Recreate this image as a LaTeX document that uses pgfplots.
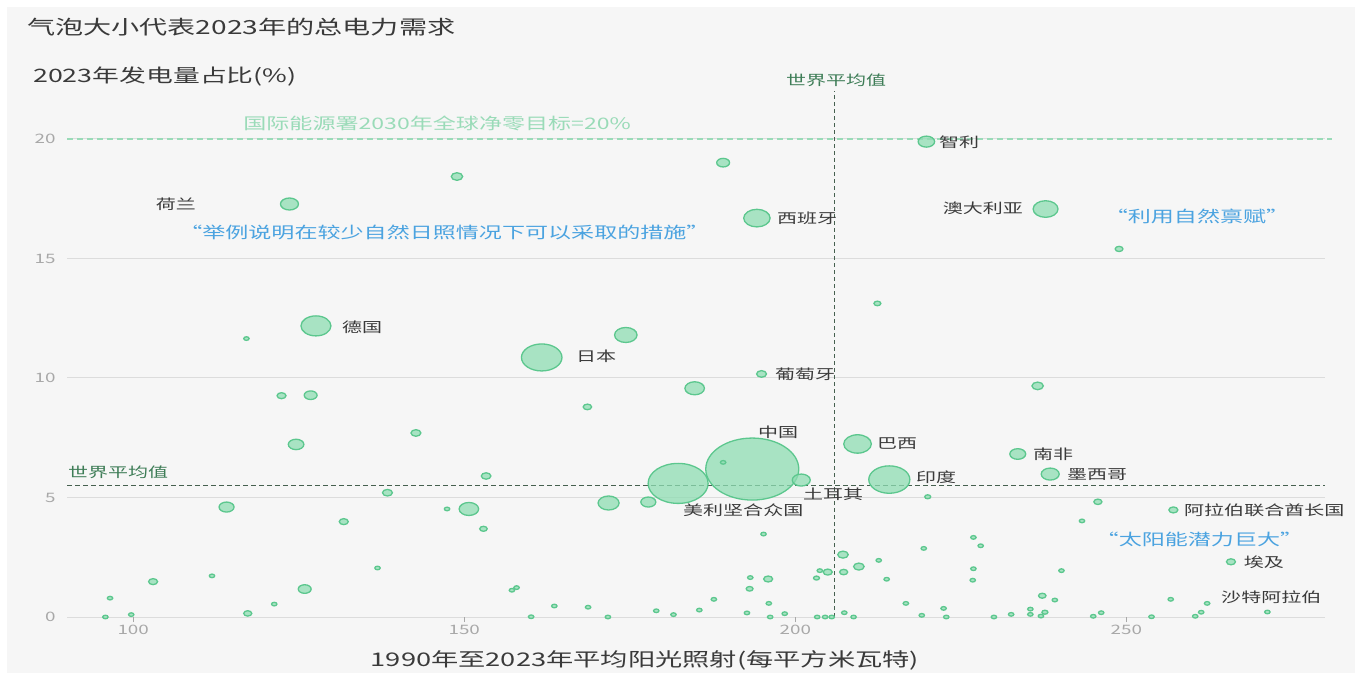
\documentclass[border=0pt]{standalone}
\usepackage{pgfplots}
\pgfplotsset{compat=1.18}
\usepackage{fontspec}
\setmainfont{Noto Sans CJK SC}[FakeStretch=1.45]

\definecolor{bggray}{HTML}{F6F6F6}
\definecolor{gridgray}{HTML}{DCDCDC}
\definecolor{tickgray}{HTML}{A8A8A8}
\definecolor{textdark}{HTML}{3A3A3A}
\definecolor{quoteblue}{HTML}{4BA3E0}
\definecolor{iealine}{HTML}{9ADBB8}
\definecolor{avglabel}{HTML}{3E7D57}
\definecolor{avgline}{HTML}{46604F}
\definecolor{bubblefill}{HTML}{8EDDB2}
\definecolor{bubbleedge}{HTML}{5CC78E}

\newcommand{\lab}{\fontsize{13.8}{15}\selectfont}
\newcommand{\quo}{\fontsize{15.9}{17}\selectfont}

\begin{document}
\begin{tikzpicture}
\fill[white] (0pt,0pt) rectangle (1361pt,673pt);
\fill[bggray] (7pt,0pt) rectangle (1355pt,666pt);
\path[use as bounding box] (0pt,0pt) rectangle (1361pt,673pt);

\node[anchor=west, text=textdark, font=\fontsize{19.4}{21}\selectfont, inner sep=0pt] at (27pt,646pt) {气泡大小代表2023年的总电力需求};
\node[anchor=west, text=textdark, font=\fontsize{18.5}{20}\selectfont, inner sep=0pt] at (33pt,596pt) {2023年发电量占比(\%)};
\node[anchor=center, text=textdark, font=\fontsize{18.8}{20}\selectfont, inner sep=0pt] at (645pt,13pt) {1990年至2023年平均阳光照射(每平方米瓦特)};

\begin{axis}[
  at={(67pt,56pt)}, anchor=south west, scale only axis,
  width=1258pt, height=537.75pt,
  xmin=90, xmax=280, ymin=0, ymax=22.5,
  axis line style={draw=none},
  xtick={100,150,200,250}, ytick={0,5,10,15,20},
  ymajorgrids, grid style={color=gridgray, line width=1pt},
  xtick pos=bottom, ytick pos=left,
  tick align=outside, major tick length=5pt,
  xtick style={draw=tickgray, line width=1pt},
  ytick style={draw=none},
  tick label style={font=\fontsize{13}{14}\selectfont, color=tickgray},
  yticklabel style={xshift=-3pt},
  /pgf/number format/assume math mode=true,
  clip=false,
]

% reference lines
\draw[iealine, line width=1.3pt, dash pattern=on 6pt off 4pt] (axis cs:90,20) -- (axis cs:281,20);
\draw[avgline, line width=1.1pt, dash pattern=on 5pt off 3pt] (axis cs:90,5.52) -- (axis cs:280,5.52);
\draw[avgline, line width=1.1pt, dash pattern=on 4pt off 3pt] (axis cs:205.9,0) -- (axis cs:205.9,22);

% bubbles: x = sunshine, y = share, r = vertical radius (pt)
\addplot[scatter, only marks, mark=*,
  scatter/use mapped color={draw=bubbleedge, fill=bubblefill},
  visualization depends on={\thisrow{r}\as\rr},
  scatter/@pre marker code/.append style={/tikz/mark size=\rr},
  mark options={xscale=1.5, line width=1.3pt, fill opacity=0.75}]
table {
x y r
193.5 6.19 31
182.3 5.59 20
214.2 5.75 13.7
161.7 10.86 13.5
209.4 7.24 9.2
127.6 12.18 10
194.2 16.69 8.8
237.8 17.07 8.3
123.6 17.28 6
219.8 19.89 5.5
200.9 5.73 6
233.6 6.82 5.3
238.5 5.98 6
194.9 10.17 3.3
257.1 4.48 3
265.8 2.31 3
174.4 11.80 7.5
148.9 18.43 3.8
189.1 19.01 4.3
212.4 13.12 2.3
248.9 15.40 2.6
236.6 9.67 3.8
184.8 9.57 6.5
117.1 11.65 1.8
122.4 9.26 3
126.8 9.28 4.3
124.6 7.22 5.2
142.7 7.70 3.3
168.6 8.79 2.8
153.3 5.90 3.2
138.4 5.20 3.3
114.1 4.60 5
131.8 3.99 3
147.4 4.52 1.8
150.7 4.52 6.5
152.9 3.69 2.5
171.8 4.77 7
177.8 4.81 5
189.1 6.47 1.8
195.2 3.47 1.8
220.0 5.03 2
245.7 4.82 2.7
243.3 4.02 1.8
226.9 3.33 1.8
228.0 2.98 1.8
95.8 0.00 1.8
96.5 0.79 1.8
99.7 0.10 1.8
103.0 1.48 3
111.9 1.72 1.8
117.3 0.15 2.7
121.3 0.54 1.8
125.9 1.17 4.3
136.9 2.05 1.8
157.2 1.12 1.8
157.9 1.23 1.8
160.1 0.01 1.8
163.6 0.46 1.8
168.7 0.41 1.8
171.7 0.00 1.8
179.0 0.26 1.8
181.6 0.10 1.8
185.5 0.29 1.8
187.7 0.74 1.8
192.7 0.17 1.8
193.1 1.18 2.3
193.2 1.65 1.8
195.9 1.59 3
196.0 0.57 1.8
196.2 0.00 1.8
198.4 0.14 1.8
203.2 1.63 2
203.7 1.94 1.8
204.9 1.88 3
203.3 0.00 1.8
204.5 0.00 1.8
205.5 0.00 1.8
207.2 2.61 3.5
207.3 1.88 2.7
207.4 0.18 1.8
208.8 0.00 1.8
209.6 2.11 3.5
212.6 2.37 1.8
213.8 1.58 1.8
216.7 0.57 1.8
219.1 0.07 1.8
219.4 2.87 1.8
222.4 0.36 1.8
222.8 0.00 1.8
226.9 2.02 1.8
226.8 1.54 1.8
230.0 0.00 1.8
232.6 0.11 1.8
235.5 0.33 1.8
235.5 0.11 1.8
237.3 0.89 2.5
237.7 0.20 2
237.1 0.04 1.8
239.2 0.71 1.8
240.2 1.94 1.8
245.0 0.03 1.8
246.2 0.18 1.8
253.8 0.01 1.8
256.7 0.74 1.8
260.4 0.03 1.8
261.3 0.20 1.8
262.2 0.57 1.8
271.3 0.21 1.8
};

% annotations
\node[text=iealine, font=\quo] at (axis cs:145.9,20.67) {国际能源署2030年全球净零目标=20\%};
\node[text=avglabel, font=\lab] at (axis cs:206.15,22.47) {世界平均值};
\node[text=avglabel, font=\lab, anchor=west, inner sep=0pt] at (axis cs:90.15,6.07) {世界平均值};

\node[text=quoteblue, font=\quo] at (axis cs:147.0,16.07) {“举例说明在较少自然日照情况下可以采取的措施”};
\node[text=quoteblue, font=\quo] at (axis cs:260.67,16.74) {“利用自然禀赋”};
\node[text=quoteblue, font=\quo] at (axis cs:261.04,3.26) {“太阳能潜力巨大”};

\begin{scope}[every node/.style={text=textdark, font=\lab, inner sep=0pt}]
\node at (axis cs:106.46,17.28) {荷兰};
\node[anchor=west] at (axis cs:131.53,12.13) {德国};
\node[anchor=west] at (axis cs:166.88,10.92) {日本};
\node[anchor=west] at (axis cs:197.23,16.69) {西班牙};
\node[anchor=west] at (axis cs:196.93,10.17) {葡萄牙};
\node[anchor=west] at (axis cs:221.70,19.87) {智利};
\node[anchor=east] at (axis cs:234.39,17.11) {澳大利亚};
\node at (axis cs:197.39,7.74) {中国};
\node[anchor=west] at (axis cs:212.34,7.24) {巴西};
\node[anchor=west] at (axis cs:235.90,6.82) {南非};
\node[anchor=west] at (axis cs:241.03,5.98) {墨西哥};
\node[anchor=west] at (axis cs:218.23,5.86) {印度};
\node[anchor=west] at (axis cs:201.16,5.15) {土耳其};
\node[anchor=west] at (axis cs:183.04,4.48) {美利坚合众国};
\node[anchor=west] at (axis cs:258.71,4.48) {阿拉伯联合酋长国};
\node[anchor=west] at (axis cs:267.72,2.30) {埃及};
\node[anchor=west] at (axis cs:264.30,0.84) {沙特阿拉伯};
\end{scope}
\end{axis}
\end{tikzpicture}
\end{document}
